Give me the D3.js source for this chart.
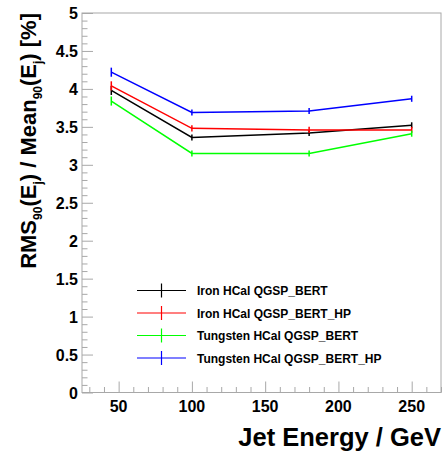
<!DOCTYPE html>
<html>
<head>
<meta charset="utf-8">
<script src="https://cdn.jsdelivr.net/npm/d3@7"></script>
<style>
  body { margin: 0; background: #fff; }
  text { font-family: "Liberation Sans", Arial, sans-serif; font-weight: bold; }
</style>
</head>
<body>
<div id="chart1"></div>
<script>
'use strict';

// jet energies (GeV)
var energies = [45, 100, 180, 250];

var seriesNames = [
	'Iron HCal QGSP_BERT',
	'Iron HCal QGSP_BERT_HP',
	'Tungsten HCal QGSP_BERT',
	'Tungsten HCal QGSP_BERT_HP'
];
var seriesColors = ['#000000', '#ff0000', '#00ff00', '#0000ff'];

var ironBert = [3.98, 3.36, 3.42, 3.52];
var ironBertHP = [4.04, 3.48, 3.46, 3.46];
var tungstenBert = [3.84, 3.15, 3.15, 3.41];
var tungstenBertHP = [4.22, 3.69, 3.71, 3.87];
var errors = [0.06, 0.04, 0.04, 0.04];

var xTicks = [50, 100, 150, 200, 250];
var yTicks = [0, 0.5, 1, 1.5, 2, 2.5, 3, 3.5, 4, 4.5, 5];

var series = [ironBert, ironBertHP, tungstenBert, tungstenBertHP];

var width = 443, height = 451;
var padL = 82, padR = 441, padT = 13, padB = 392.5;
var frameColor = '#a8a8a8';

var svg = d3.select('#chart1').append('svg')
	.attr('width', width)
	.attr('height', height);

var x = d3.scaleLinear().domain([25, 270]).range([padL, padR]);
var y = d3.scaleLinear().domain([0, 5]).range([padB, padT]);

// frame
svg.append('rect')
	.attr('x', padL).attr('y', padT)
	.attr('width', padR - padL).attr('height', padB - padT)
	.style('fill', 'none')
	.style('stroke', frameColor)
	.style('stroke-width', 1);

// x axis ticks
var xAxis = d3.axisBottom(x).tickValues(d3.range(30, 271, 10))
	.tickSize(-5.5).tickFormat('');
var gx = svg.append('g').attr('transform', 'translate(0,' + padB + ')').call(xAxis);
gx.selectAll('.tick line').attr('y2', function(d) {
	return d % 50 === 0 ? -11 : -5.5;
});
gx.select('.domain').remove();
gx.selectAll('line').style('stroke', frameColor);

svg.selectAll('text.xlab')
	.data(xTicks)
	.enter().append('text')
	.attr('class', 'xlab')
	.attr('x', function(d) { return x(d); })
	.attr('y', padB + 19)
	.attr('text-anchor', 'middle')
	.style('font-size', '16px')
	.text(function(d) { return d; });

// y axis ticks
var yAxis = d3.axisLeft(y).tickValues(d3.range(0, 50.5, 1).map(function(v) { return v / 10; }))
	.tickSize(-5.5).tickFormat('');
var gy = svg.append('g').attr('transform', 'translate(' + padL + ',0)').call(yAxis);
gy.selectAll('.tick line').attr('x2', function(d) {
	return Math.round(d * 10) % 5 === 0 ? 11 : 5.5;
});
gy.select('.domain').remove();
gy.selectAll('line').style('stroke', frameColor);

svg.selectAll('text.ylab')
	.data(yTicks)
	.enter().append('text')
	.attr('class', 'ylab')
	.attr('x', padL - 4)
	.attr('y', function(d) { return y(d) + 6; })
	.attr('text-anchor', 'end')
	.style('font-size', '16px')
	.text(function(d) { return d; });

// axis titles
svg.append('text')
	.attr('x', padR)
	.attr('y', 446)
	.attr('text-anchor', 'end')
	.style('font-size', '25.5px')
	.text('Jet Energy / GeV');

var yt = svg.append('text')
	.attr('transform', 'translate(36,' + padT + ') rotate(-90)')
	.attr('text-anchor', 'end')
	.style('font-size', '22px');
yt.append('tspan').text('RMS');
yt.append('tspan').attr('dy', 6).style('font-size', '12px').text('90');
yt.append('tspan').attr('dy', -6).text('(E');
yt.append('tspan').attr('dy', 6).style('font-size', '12px').text('j');
yt.append('tspan').attr('dy', -6).text(') / Mean');
yt.append('tspan').attr('dy', 6).style('font-size', '12px').text('90');
yt.append('tspan').attr('dy', -6).text('(E');
yt.append('tspan').attr('dy', 6).style('font-size', '12px').text('j');
yt.append('tspan').attr('dy', -6).text(') [%]');

// lines and error bars
var line = d3.line()
	.x(function(d, i) { return x(energies[i]); })
	.y(function(d) { return y(d); });

var g = svg.append('g');
series.forEach(function(vals, s) {
	g.append('path')
		.datum(vals)
		.attr('d', line)
		.style('fill', 'none')
		.style('stroke', seriesColors[s])
		.style('stroke-width', 1.5);
	g.selectAll('line.err' + s)
		.data(vals)
		.enter().append('line')
		.attr('class', 'err' + s)
		.attr('x1', function(d, i) { return x(energies[i]); })
		.attr('x2', function(d, i) { return x(energies[i]); })
		.attr('y1', function(d, i) { return y(d - errors[i]); })
		.attr('y2', function(d, i) { return y(d + errors[i]); })
		.style('stroke', seriesColors[s])
		.style('stroke-width', 1.5);
});

// legend
var legend = svg.append('g');
seriesNames.forEach(function(name, s) {
	var ly = 290.5 + s * 22.5;
	legend.append('line')
		.attr('x1', 137).attr('x2', 186)
		.attr('y1', ly).attr('y2', ly)
		.style('stroke', seriesColors[s]).style('stroke-width', 1.2);
	legend.append('line')
		.attr('x1', 161.5).attr('x2', 161.5)
		.attr('y1', ly - 7).attr('y2', ly + 7)
		.style('stroke', seriesColors[s]).style('stroke-width', 1.2);
	legend.append('text')
		.attr('x', 197)
		.attr('y', ly + 4.5)
		.style('font-size', '12px')
		.text(name);
});
</script>
</body>
</html>
